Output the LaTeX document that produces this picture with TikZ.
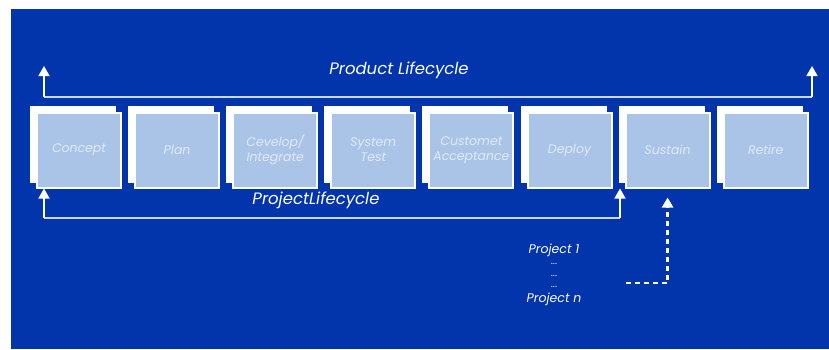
\documentclass[tikz,border=0pt]{standalone}
\usepackage{fontspec}
\setmainfont{Poppins}
\usetikzlibrary{arrows.meta}
\definecolor{bgblue}{RGB}{2,52,172}
\definecolor{boxblue}{RGB}{170,196,232}
\definecolor{boxtext}{RGB}{226,234,248}
\definecolor{linecol}{RGB}{200,216,242}
\tikzset{
  phase/.style={fill=boxblue, draw=white, line width=2pt, minimum width=84pt,
    minimum height=75pt, inner sep=0pt, align=center, text=boxtext,
    font=\fontsize{12.5}{15}\selectfont\itshape},
  phaseback/.style={fill=white, draw=white, line width=2pt, minimum width=84pt,
    minimum height=75pt, inner sep=0pt},
  cycle/.style={draw=linecol, line width=1.6pt},
  tip/.style={-{Triangle[width=11pt,length=10pt]}, color=white},
  caption/.style={text=white, font=\fontsize{16.5}{19}\selectfont\itshape},
  small/.style={text=white, font=\fontsize{12.5}{14}\selectfont\itshape, inner sep=0pt},
  dots/.style={text=boxtext, font=\fontsize{10}{11}\selectfont, inner sep=0pt}
}
\begin{document}
\begin{tikzpicture}[x=1pt,y=-1pt]
  \useasboundingbox (0,0) rectangle (829,349);
  \fill[bgblue] (11,9) rectangle (829,349);
  % the eight phases
  \foreach \name/\txt [count=\i from 0] in {concept/Concept, plan/Plan,
      develop/{Cevelop/\\Integrate}, systest/{System\\Test},
      accept/{Customet\\Acceptance}, deploy/Deploy, sustain/Sustain, retire/Retire} {
    \node[phaseback] (\name-back) at (73+98.1*\i,144) {};
    \node[phase] (\name) at (79+98.1*\i,150) {\txt};
  }
  % product lifecycle
  \coordinate (prod-l) at (44,97);
  \coordinate (prod-r) at (812,97);
  \draw[cycle] (prod-l) -- (prod-r);
  \draw[cycle, tip] (prod-l) -- ++(0,-31);
  \draw[cycle, tip] (prod-r) -- ++(0,-31);
  \node[caption] (prodlabel) at (399,70) {Product Lifecycle};
  % project lifecycle
  \coordinate (proj-l) at (44,218);
  \coordinate (proj-r) at (620,218);
  \draw[cycle] (proj-l) -- (proj-r);
  \draw[cycle, tip] (proj-l) -- (proj-l |- concept.south);
  \draw[cycle, tip] (proj-r) -- (proj-r |- concept.south);
  \node[caption] (projlabel) at (316,200) {ProjectLifecycle};
  % projects
  \node[small] (p1) at (554,250) {Project 1};
  \node[dots] (d1) at (554,264) {...};
  \node[dots] (d2) at (554,276) {...};
  \node[dots] (d3) at (554,287) {...};
  \node[small] (pn) at (554,299) {Project n};
  \coordinate (dash-start) at (626,283);
  \draw[white, line width=2.6pt, dash pattern=on 5pt off 4pt,
    -{Triangle[width=11pt,length=10pt]}]
    (dash-start) -- (sustain.south |- dash-start) -- ([yshift=-9pt]sustain.south);
\end{tikzpicture}
\end{document}
